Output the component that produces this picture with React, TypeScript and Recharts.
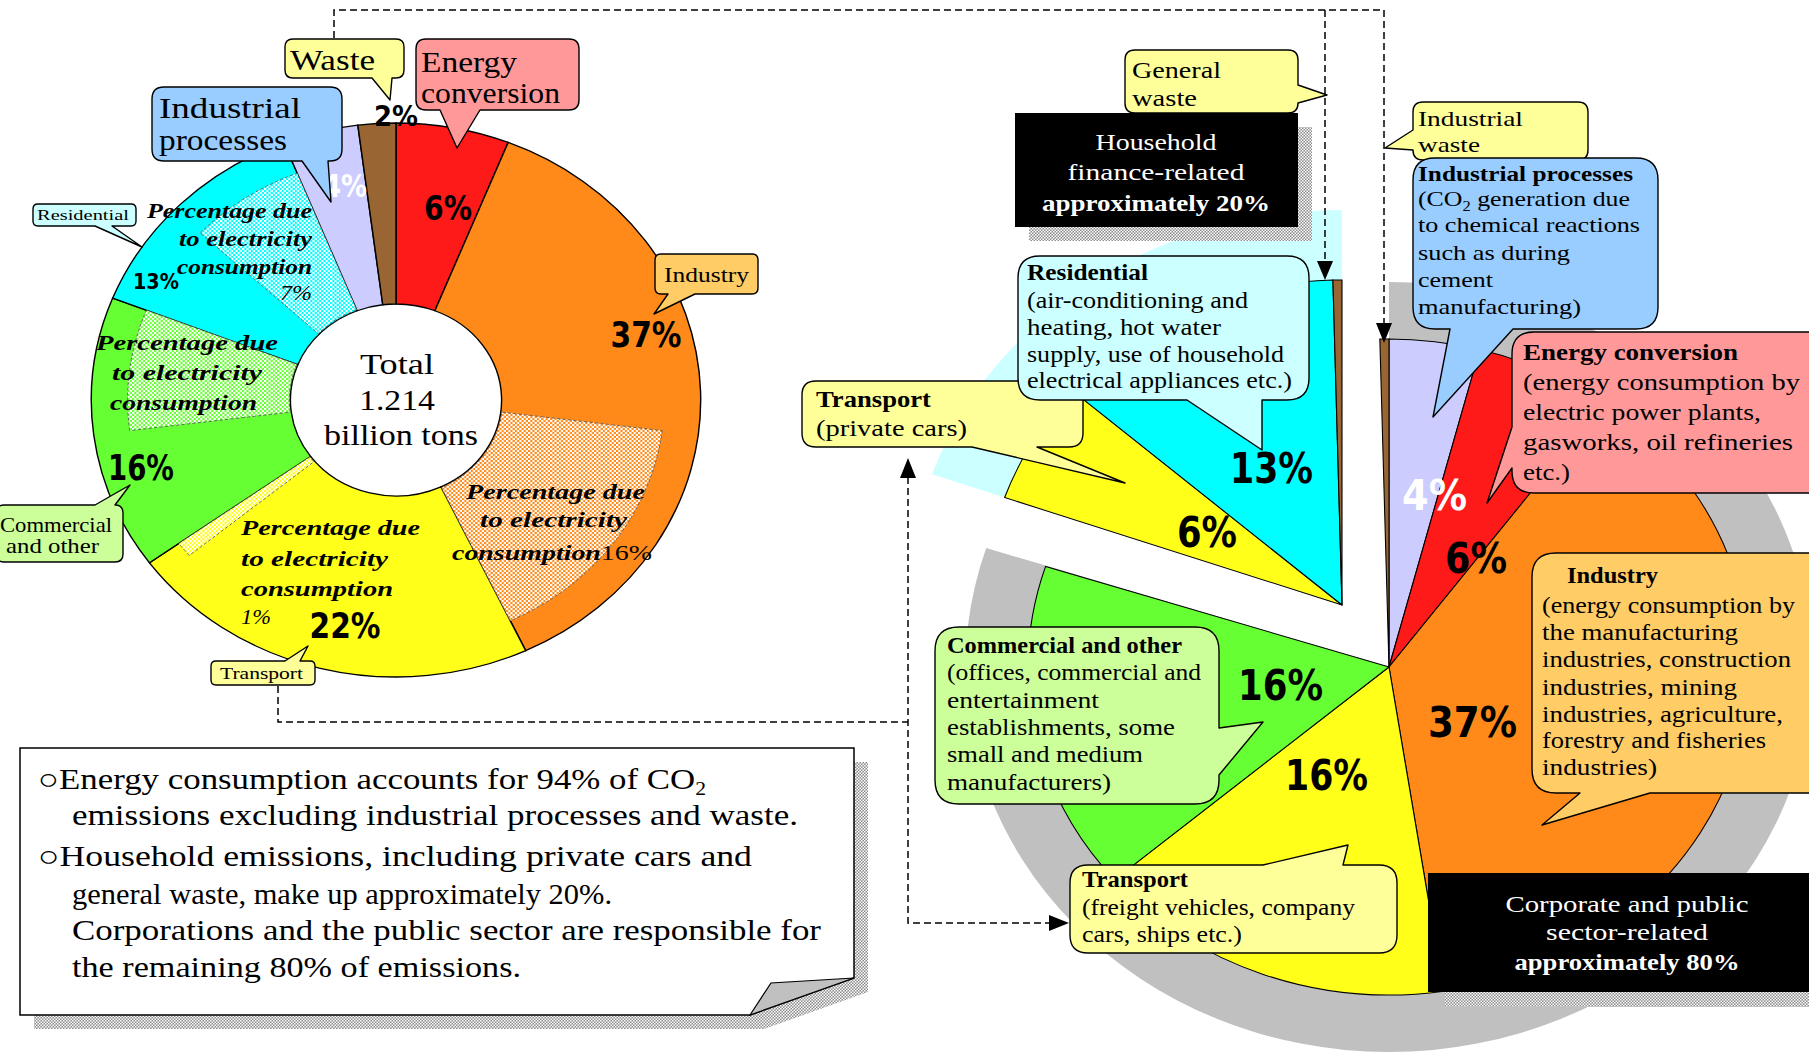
import React from 'react';
import { PieChart, Pie, Cell } from 'recharts';

const W = 1809;
const H = 1058;
const SX = 1.1; // the original figure is stretched horizontally
const CW = Math.round(W / SX);

// ---------------- data ----------------
// Left donut: total 1.214 billion tons, by sector (%)
const leftCategories = ['Energy conversion', 'Industry', 'Transport', 'Commercial and other', 'Residential', 'Industrial processes', 'Waste'];
const leftValues = [6, 37, 22, 16, 13, 4, 2];
const leftColors = ['#ff1a1a', '#ff8a1a', '#ffff1a', '#66ff33', '#00ffff', '#ccccff', '#996633'];

// Share due to electricity consumption, laid over the same donut ('-' = not hatched)
const elecCategories = ['-', 'Industry: electricity', '-', 'Transport: electricity', '-', 'Commercial: electricity', '-', 'Residential: electricity', '-'];
const elecValues = [27, 16, 21, 1, 8, 8, 6, 7, 6];
const elecFills = ['none', 'url(#hatchOrange)', 'none', 'url(#hatchYellow)', 'none', 'url(#hatchGreen)', 'none', 'url(#hatchCyan)', 'none'];

// Household part (exploded wedge of the right pie)
const householdCategories = ['Transport (private cars)', 'Residential', 'General waste'];
const householdValues = [6, 13, 0.4];
const householdColors = ['#ffff1a', '#00ffff', '#996633'];

// Right pie: corporate & public sector part; 'Household-related' is the gap left by the exploded wedge
const rightCategories = ['Industrial processes', 'Energy conversion', 'Industry', 'Transport (freight)', 'Commercial and other', 'Household-related', 'Industrial waste'];
const rightValues = [4, 6, 37, 16, 16, 19.4, 0.4];
const rightColors = ['#ccccff', '#ff1a1a', '#ff8a1a', '#ffff1a', '#66ff33', 'none', '#996633'];

const sharesCategories = ['Corporate and public sector-related', 'Household finance-related'];
const sharesValues = [80, 20];

// ---------------- derived ----------------
const leftData = leftCategories.map((name, i) => ({ name, value: leftValues[i] }));
const elecData = elecCategories.map((name, i) => ({ name, value: elecValues[i] }));
const rightData = rightCategories.map((name, i) => ({ name, value: rightValues[i] }));
const householdData = householdCategories.map((name, i) => ({ name, value: householdValues[i] }));
const sharesData = sharesCategories.map((name, i) => ({ name, value: sharesValues[i] }));
const rightTotal = rightValues.reduce((a, b) => a + b, 0);
const hhTotal = householdValues.reduce((a, b) => a + b, 0);
const HH_START = 90 + (360 * hhTotal) / rightTotal;

const LC = { x: 396 / SX, y: 400 };
const RC = { x: 1389 / SX, y: 667 };
const EC = { x: 1342 / SX, y: 605 };

const SERIF = '"Liberation Serif", "DejaVu Serif", serif';
const SANS = '"DejaVu Sans", "Liberation Sans", sans-serif';

function bubble(x: number, y: number, w: number, h: number, r: number, side: string, a: number, b: number, tx: number, ty: number) {
  const x2 = x + w, y2 = y + h;
  let d = `M${x + r},${y}`;
  if (side === 'top') d += ` L${a},${y} L${tx},${ty} L${b},${y}`;
  d += ` L${x2 - r},${y} Q${x2},${y} ${x2},${y + r}`;
  if (side === 'right') d += ` L${x2},${a} L${tx},${ty} L${x2},${b}`;
  d += ` L${x2},${y2 - r} Q${x2},${y2} ${x2 - r},${y2}`;
  if (side === 'bottom') d += ` L${b},${y2} L${tx},${ty} L${a},${y2}`;
  d += ` L${x + r},${y2} Q${x},${y2} ${x},${y2 - r}`;
  if (side === 'left') d += ` L${x},${b} L${tx},${ty} L${x},${a}`;
  d += ` L${x},${y + r} Q${x},${y} ${x + r},${y} Z`;
  return d;
}

function T({ x, y, s = 23, b = false, i = false, a = 'start', f = '#000', fam = SERIF, len, children }: any) {
  return (
    <text x={x} y={y} fontSize={s} fontWeight={b ? 700 : 400} fontStyle={i ? 'italic' : 'normal'} textAnchor={a} fill={f} fontFamily={fam}
      textLength={len} lengthAdjust={len ? 'spacingAndGlyphs' : undefined}>{children}</text>
  );
}

function Callout({ d, fill, children }: any) {
  return (
    <g>
      <path d={d} fill={fill} stroke="#000" strokeWidth={1.4} strokeLinejoin="round" />
      {children}
    </g>
  );
}

const P = ({ x, y, len, s = 42, f = '#000', a = 'start', children }: any) => (
  <T x={x} y={y} s={s} b fam={SANS} len={len} f={f} a={a}>{children}</T>
);

function Checker({ id, color, size = 4 }: any) {
  const h = size / 2;
  return (
    <pattern id={id} width={size} height={size} patternUnits="userSpaceOnUse">
      <rect width={size} height={size} fill={color} />
      <rect width={h} height={h} fill="#fff" />
      <rect x={h} y={h} width={h} height={h} fill="#fff" />
    </pattern>
  );
}

export default function App() {
  return (
    <div style={{ position: 'absolute', left: 0, top: 0, width: W, height: H, background: '#fff', overflow: 'hidden' }}>
      <svg width={0} height={0} style={{ position: 'absolute' }}>
        <defs>
          <Checker id="hatchOrange" color="#ff8a1a" />
          <Checker id="hatchYellow" color="#ffff1a" />
          <Checker id="hatchGreen" color="#66ff33" />
          <Checker id="hatchCyan" color="#00ffff" />
          <Checker id="hatchGray" color="#8c8c8c" size={3} />
        </defs>
      </svg>

      <div style={{ position: 'absolute', left: 0, top: 0, width: CW, height: H, transform: `scaleX(${SX})`, transformOrigin: '0 0' }}>
        <PieChart width={CW} height={H} margin={{ top: 0, right: 0, bottom: 0, left: 0 }}>
          {/* grey shadow of the corporate part */}
          <Pie data={sharesData} dataKey="value" cx={RC.x} cy={RC.y} innerRadius={0} outerRadius={385} startAngle={90} endAngle={-270} isAnimationActive={false}>
            {sharesData.map((d, i) => <Cell key={i} fill={i === 0 ? '#c0c0c0' : 'none'} stroke="none" />)}
          </Pie>
          {/* pale halo behind the household wedge */}
          <Pie data={[{ name: 'Household', value: hhTotal }]} dataKey="value" cx={EC.x} cy={EC.y} innerRadius={0} outerRadius={395} startAngle={HH_START} endAngle={90} isAnimationActive={false}>
            <Cell fill="#ccffff" stroke="none" />
          </Pie>
          {/* right main pie */}
          <Pie data={rightData} dataKey="value" cx={RC.x} cy={RC.y} innerRadius={0} outerRadius={328} startAngle={90} endAngle={-270} isAnimationActive={false}>
            {rightData.map((d, i) => <Cell key={i} fill={rightColors[i]} stroke={rightColors[i] === 'none' ? 'none' : '#000'} strokeWidth={1} />)}
          </Pie>
          {/* exploded household wedge */}
          <Pie data={householdData} dataKey="value" cx={EC.x} cy={EC.y} innerRadius={0} outerRadius={325} startAngle={HH_START} endAngle={90} isAnimationActive={false}>
            {householdData.map((d, i) => <Cell key={i} fill={householdColors[i]} stroke="#000" strokeWidth={1} />)}
          </Pie>
          {/* left donut */}
          <Pie data={leftData} dataKey="value" cx={LC.x} cy={LC.y} innerRadius={96} outerRadius={277} startAngle={90} endAngle={-270} isAnimationActive={false}>
            {leftData.map((d, i) => <Cell key={i} fill={leftColors[i]} stroke="#000" strokeWidth={1.3} />)}
          </Pie>
          {/* electricity share hatch */}
          <Pie data={elecData} dataKey="value" cx={LC.x} cy={LC.y} innerRadius={97} outerRadius={244} startAngle={90} endAngle={-270} isAnimationActive={false}>
            {elecData.map((d, i) => <Cell key={i} fill={elecFills[i]} stroke={elecFills[i] === 'none' ? 'none' : '#555'} strokeWidth={0.8} strokeDasharray="3 2" />)}
          </Pie>
        </PieChart>
      </div>

      <svg width={W} height={H} style={{ position: 'absolute', left: 0, top: 0, pointerEvents: 'none' }}>
        {/* dashed connector lines */}
        <g stroke="#000" strokeWidth={1.5} strokeDasharray="7 4" fill="none">
          <path d="M334,38 L334,10 L1384,10" />
          <path d="M1325,10 L1325,262" />
          <path d="M1384,10 L1384,324" />
          <path d="M278,686 L278,722 L908,722" />
          <path d="M908,477 L908,923 L1050,923" />
        </g>
        <g fill="#000">
          <polygon points="1317,261 1333,261 1325,280" />
          <polygon points="1376,323 1392,323 1384,343" />
          <polygon points="900,478 916,478 908,458" />
          <polygon points="1049,915 1049,931 1069,923" />
        </g>

        {/* left donut labels */}
        <P x={448} y={220} s={34} len={48} a="middle">6%</P>
        <P x={646} y={347} s={36} len={71} a="middle">37%</P>
        <P x={345} y={638} s={36} len={71} a="middle">22%</P>
        <P x={141} y={480} s={36} len={66} a="middle">16%</P>
        <P x={133} y={289} s={22} len={46}>13%</P>
        <P x={323} y={197} s={32} len={44} f="#fff">4%</P>
        <P x={374} y={126} s={28} len={44}>2%</P>

        <g>
          <T x={147} y={218} s={22} b i len={165}>Percentage due</T>
          <T x={179} y={246} s={22} b i len={133}>to electricity</T>
          <T x={177} y={274} s={22} b i len={135}>consumption</T>
          <T x={280} y={300} s={22} i len={32}>7%</T>

          <T x={96} y={350} s={22} b i len={182}>Percentage due</T>
          <T x={112} y={380} s={22} b i len={150}>to electricity</T>
          <T x={110} y={410} s={22} b i len={147}>consumption</T>

          <T x={466} y={499} s={22} b i len={179}>Percentage due</T>
          <T x={480} y={527} s={22} b i len={147}>to electricity</T>
          <T x={452} y={560} s={22} b i len={200}>consumption<tspan fontWeight={400} fontStyle="normal">16%</tspan></T>

          <T x={241} y={535} s={22} b i len={179}>Percentage due</T>
          <T x={241} y={566} s={22} b i len={147}>to electricity</T>
          <T x={241} y={596} s={22} b i len={152}>consumption</T>
          <T x={241} y={624} s={22} i len={30}>1%</T>
        </g>

        <T x={397} y={374} s={30} a="middle" len={74}>Total</T>
        <T x={397} y={410} s={30} a="middle" len={76}>1.214</T>
        <T x={401} y={445} s={30} a="middle" len={154}>billion tons</T>

        {/* left callouts */}
        <Callout d={bubble(285, 39, 119, 39, 8, 'bottom', 372, 392, 390, 100)} fill="#ffff99">
          <T x={290} y={70} s={30} len={85}>Waste</T>
        </Callout>
        <Callout d={bubble(416, 39, 163, 71, 10, 'bottom', 440, 480, 457, 148)} fill="#ff9999">
          <T x={421} y={72} s={30} len={96}>Energy</T>
          <T x={421} y={103} s={30} len={139}>conversion</T>
        </Callout>
        <Callout d={bubble(152, 87, 190, 74, 12, 'bottom', 302, 328, 331, 202)} fill="#99ccff">
          <T x={159} y={118} s={30} len={142}>Industrial</T>
          <T x={159} y={150} s={30} len={128}>processes</T>
        </Callout>
        <Callout d={bubble(33, 204, 103, 22, 5, 'bottom', 95, 112, 142, 247)} fill="#ccffff">
          <T x={37} y={220} s={15} len={92}>Residential</T>
        </Callout>
        <Callout d={bubble(655, 254, 103, 40, 6, 'bottom', 668, 695, 654, 314)} fill="#ffcc66">
          <T x={664} y={282} s={21} len={85}>Industry</T>
        </Callout>
        <Callout d={bubble(-4, 505, 127, 57, 8, 'top', 95, 115, 130, 485)} fill="#ccff99">
          <T x={0} y={532} s={21} len={112}>Commercial</T>
          <T x={6} y={553} s={21} len={93}>and other</T>
        </Callout>
        <Callout d={bubble(211, 661, 104, 24, 5, 'top', 285, 300, 308, 646)} fill="#ffff99">
          <T x={220} y={679} s={17} len={83}>Transport</T>
        </Callout>

        {/* right pie labels */}
        <P x={1230} y={483} len={83}>13%</P>
        <P x={1177} y={547} len={60}>6%</P>
        <P x={1402} y={510} len={65} f="#fff">4%</P>
        <P x={1445} y={573} len={62}>6%</P>
        <P x={1428} y={737} len={89}>37%</P>
        <P x={1238} y={700} len={85}>16%</P>
        <P x={1285} y={790} len={83}>16%</P>

        {/* right callouts */}
        <Callout d={bubble(1125, 50, 173, 63, 10, 'right', 85, 103, 1327, 95)} fill="#ffff99">
          <T x={1132} y={78} s={24} len={89}>General</T>
          <T x={1132} y={106} s={24} len={65}>waste</T>
        </Callout>
        <rect x={1029} y={127} width={283} height={114} fill="url(#hatchGray)" />
        <rect x={1015} y={113} width={283} height={114} fill="#000" />
        <T x={1156} y={150} s={24} a="middle" f="#fff" len={121}>Household</T>
        <T x={1156} y={180} s={24} a="middle" f="#fff" len={177}>finance-related</T>
        <T x={1156} y={211} s={24} a="middle" f="#fff" b len={228}>approximately 20%</T>

        <Callout d={bubble(1413, 102, 175, 58, 10, 'left', 130, 150, 1385, 148)} fill="#ffff99">
          <T x={1418} y={126} s={22} len={105}>Industrial</T>
          <T x={1418} y={152} s={22} len={62}>waste</T>
        </Callout>
        <Callout d={bubble(1413, 158, 245, 171, 22, 'bottom', 1450, 1513, 1433, 417)} fill="#99ccff">
          <T x={1418} y={181} s={22} b len={215}>Industrial processes</T>
          <T x={1418} y={206} s={22} len={212}>(CO<tspan fontSize={14} dy={5}>2</tspan><tspan dy={-5}> generation due</tspan></T>
          <T x={1418} y={232} s={22} len={222}>to chemical reactions</T>
          <T x={1418} y={260} s={22} len={152}>such as during</T>
          <T x={1418} y={287} s={22} len={75}>cement</T>
          <T x={1418} y={314} s={22} len={163}>manufacturing)</T>
        </Callout>

        <Callout d={bubble(802, 381, 281, 66, 14, 'bottom', 972, 1037, 1125, 483)} fill="#ffff99">
          <T x={816} y={407} s={23} b len={115}>Transport</T>
          <T x={816} y={436} s={23} len={151}>(private cars)</T>
        </Callout>
        <Callout d={bubble(1018, 256, 291, 144, 22, 'bottom', 1187, 1262, 1262, 450)} fill="#ccffff">
          <T x={1027} y={280} s={23} b len={121}>Residential</T>
          <T x={1027} y={308} s={23} len={221}>(air-conditioning and</T>
          <T x={1027} y={335} s={23} len={194}>heating, hot water</T>
          <T x={1027} y={362} s={23} len={257}>supply, use of household</T>
          <T x={1027} y={388} s={23} len={265}>electrical appliances etc.)</T>
        </Callout>

        <Callout d={bubble(1512, 332, 320, 161, 22, 'left', 427, 468, 1487, 503)} fill="#ff9999">
          <T x={1523} y={360} s={24} b len={215}>Energy conversion</T>
          <T x={1523} y={390} s={24} len={277}>(energy consumption by</T>
          <T x={1523} y={420} s={24} len={238}>electric power plants,</T>
          <T x={1523} y={450} s={24} len={270}>gasworks, oil refineries</T>
          <T x={1523} y={480} s={24} len={47}>etc.)</T>
        </Callout>

        <Callout d={bubble(1532, 553, 300, 240, 24, 'bottom', 1580, 1650, 1542, 825)} fill="#ffcc66">
          <T x={1567} y={583} s={23} b len={91}>Industry</T>
          <T x={1542} y={613} s={23} len={253}>(energy consumption by</T>
          <T x={1542} y={640} s={23} len={196}>the manufacturing</T>
          <T x={1542} y={667} s={23} len={249}>industries, construction</T>
          <T x={1542} y={695} s={23} len={195}>industries, mining</T>
          <T x={1542} y={722} s={23} len={241}>industries, agriculture,</T>
          <T x={1542} y={748} s={23} len={224}>forestry and fisheries</T>
          <T x={1542} y={775} s={23} len={115}>industries)</T>
        </Callout>

        <Callout d={bubble(935, 627, 284, 177, 24, 'right', 728, 775, 1263, 722)} fill="#ccff99">
          <T x={947} y={653} s={23} b len={235}>Commercial and other</T>
          <T x={947} y={680} s={23} len={254}>(offices, commercial and</T>
          <T x={947} y={708} s={23} len={152}>entertainment</T>
          <T x={947} y={735} s={23} len={228}>establishments, some</T>
          <T x={947} y={762} s={23} len={196}>small and medium</T>
          <T x={947} y={790} s={23} len={164}>manufacturers)</T>
        </Callout>

        <Callout d={bubble(1070, 865, 327, 88, 18, 'top', 1263, 1343, 1348, 845)} fill="#ffff99">
          <T x={1082} y={887} s={23} b len={106}>Transport</T>
          <T x={1082} y={915} s={23} len={273}>(freight vehicles, company</T>
          <T x={1082} y={942} s={23} len={160}>cars, ships etc.)</T>
        </Callout>

        <rect x={1445} y={888} width={380} height={119} fill="url(#hatchGray)" />
        <rect x={1428} y={873} width={381} height={119} fill="#000" />
        <T x={1627} y={912} s={24} a="middle" f="#fff" len={243}>Corporate and public</T>
        <T x={1627} y={940} s={24} a="middle" f="#fff" len={162}>sector-related</T>
        <T x={1627} y={970} s={24} a="middle" f="#fff" b len={225}>approximately 80%</T>

        {/* note box */}
        <path d="M34,762 L868,762 L868,992 L764,1029 L34,1029 Z" fill="url(#hatchGray)" />
        <path d="M20,748 L854,748 L854,978 L750,1015 L20,1015 Z" fill="#fff" stroke="#000" strokeWidth={1.5} />
        <path d="M854,978 L771,983 L750,1015 Z" fill="#c0c0c0" stroke="#000" strokeWidth={1.2} />
        <g fill="#222">
          <T x={38} y={789} s={29} len={668}>○Energy consumption accounts for 94% of CO<tspan fontSize={18} dy={6}>2</tspan></T>
          <T x={72} y={825} s={29} len={726}>emissions excluding industrial processes and waste.</T>
          <T x={38} y={866} s={29} len={714}>○Household emissions, including private cars and</T>
          <T x={72} y={904} s={29} len={540}>general waste, make up approximately 20%.</T>
          <T x={72} y={940} s={29} len={749}>Corporations and the public sector are responsible for</T>
          <T x={72} y={977} s={29} len={449}>the remaining 80% of emissions.</T>
        </g>
      </svg>
    </div>
  );
}
